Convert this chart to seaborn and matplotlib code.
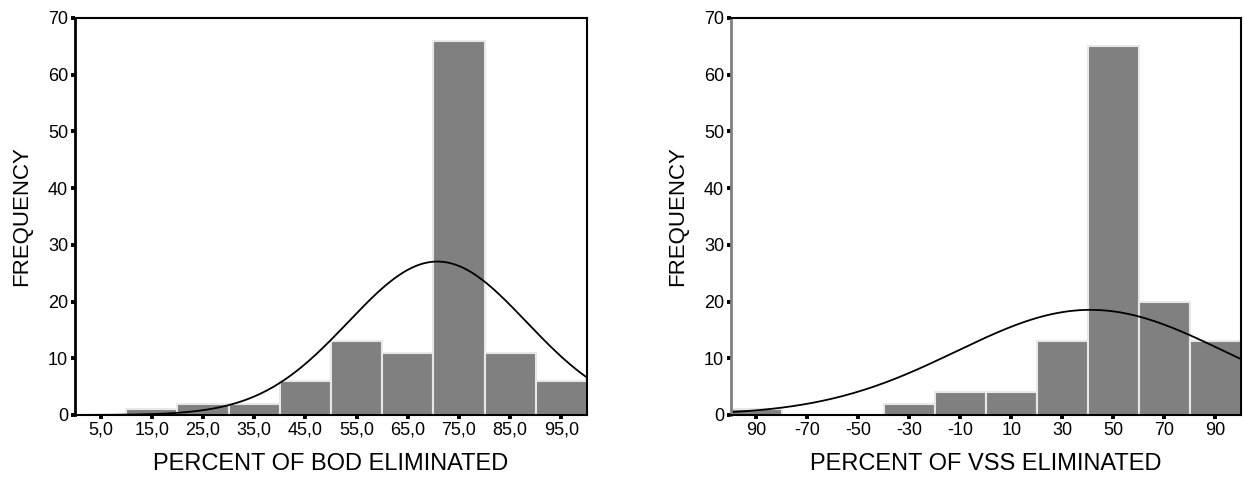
import numpy as np
import pandas as pd
import matplotlib
matplotlib.use("Agg")
import matplotlib.pyplot as plt
import seaborn as sns

# BOD histogram (bins of 10)
bod_edges = [0, 10, 20, 30, 40, 50, 60, 70, 80, 90, 100]
bod_counts = [0, 1, 2, 2, 6, 13, 11, 66, 11, 6]
bod_ticks = [5, 15, 25, 35, 45, 55, 65, 75, 85, 95]
bod_ticklabels = ["5,0", "15,0", "25,0", "35,0", "45,0", "55,0", "65,0", "75,0", "85,0", "95,0"]
bod_mean, bod_sd = 70.8, 17.4

# VSS histogram (bins of 20)
vss_edges = [-100, -80, -60, -40, -20, 0, 20, 40, 60, 80, 100]
vss_counts = [1, 0, 0, 2, 4, 4, 13, 65, 20, 13]
vss_ticks = [-90, -70, -50, -30, -10, 10, 30, 50, 70, 90]
vss_ticklabels = ["90", "-70", "-50", "-30", "-10", "10", "30", "50", "70", "90"]
vss_mean, vss_sd = 41, 52.5

sns.set_theme(style="white")
plt.rcParams['font.family'] = ['Liberation Sans', 'DejaVu Sans']
plt.rcParams['text.color'] = 'black'
plt.rcParams['axes.labelcolor'] = 'black'
plt.rcParams['xtick.labelcolor'] = 'black'
plt.rcParams['ytick.labelcolor'] = 'black'

fig = plt.figure(figsize=(12.45, 4.91), dpi=100)
ax1 = fig.add_axes([0.0602, 0.1548, 0.4112, 0.8086])
ax2 = fig.add_axes([0.5871, 0.1548, 0.4096, 0.8086])


def draw(ax, edges, counts, mean, sd, ticks, ticklabels, xlabel, left_color):
    centers = [(a + b) / 2 for a, b in zip(edges[:-1], edges[1:])]
    width = edges[1] - edges[0]
    df = pd.DataFrame({"x": centers, "n": counts})
    sns.histplot(data=df, x="x", weights="n", bins=list(edges), color="#808080",
                 edgecolor="#e8e8e8", linewidth=1.5, alpha=1, ax=ax)
    # fitted normal curve
    n = sum(counts)
    xs = np.linspace(edges[0], edges[-1], 300)
    ys = n * width / (sd * np.sqrt(2 * np.pi)) * np.exp(-(xs - mean) ** 2 / (2 * sd ** 2))
    sns.lineplot(x=xs, y=ys, color="black", linewidth=1.3, ax=ax)
    ax.set_xlim(edges[0], edges[-1])
    ax.set_ylim(0, 70)
    ax.set_yticks(range(0, 71, 10))
    ax.set_xticks(ticks)
    ax.set_xticklabels(ticklabels)
    ax.tick_params(axis="both", direction="out", length=3, width=2.8,
                   color="black", labelcolor="black", labelsize=13, pad=2,
                   left=True, bottom=True)
    ax.set_xlabel(xlabel, fontsize=17, labelpad=10, color="black")
    ax.set_ylabel("FREQUENCY", fontsize=16, labelpad=11, color="black")
    for s in ["top", "right", "bottom"]:
        ax.spines[s].set_color("black")
        ax.spines[s].set_linewidth(1.5)
        ax.spines[s].set_visible(True)
    ax.spines["left"].set_color(left_color)
    ax.spines["left"].set_linewidth(2)
    ax.spines["left"].set_visible(True)


draw(ax1, bod_edges, bod_counts, bod_mean, bod_sd, bod_ticks, bod_ticklabels,
     "PERCENT OF BOD ELIMINATED", "black")
draw(ax2, vss_edges, vss_counts, vss_mean, vss_sd, vss_ticks, vss_ticklabels,
     "PERCENT OF VSS ELIMINATED", "#808080")

fig.savefig("out.png", dpi=100)
